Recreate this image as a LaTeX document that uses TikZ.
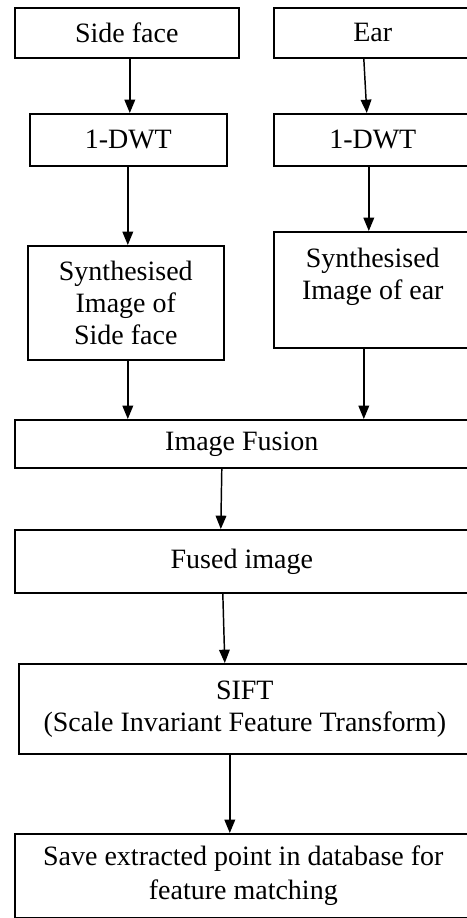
\documentclass[tikz,border=0pt]{standalone}
\usepackage{fontspec}
\setmainfont{Liberation Serif}
\usetikzlibrary{arrows.meta}

\begin{document}
\begin{tikzpicture}[x=0.75pt, y=-0.75pt]
  % one pixel of the layout
  \def\pu{0.75pt}
  %
  \tikzset{
    fbox/.style={draw, line width=1.2pt, inner sep=0pt, align=center, anchor=north west,
                 font=\fontsize{21}{24}\selectfont},
    arr/.style={line width=1.1pt, -{Triangle[length=10pt, width=8pt]}},
  }
  %
  \clip (0,0) rectangle (467,918);
  %
  %%% TWO COLUMNS %%%
  \node[fbox, minimum width=224*\pu, minimum height=50*\pu] (side) at (14,7) {Side face};
  \node[fbox, minimum width=198*\pu, minimum height=50*\pu] (ear) at (273,7) {Ear};
  %
  \node[fbox, minimum width=197*\pu, minimum height=52*\pu] (dwtL) at (29,113) {1-DWT};
  \node[fbox, minimum width=198*\pu, minimum height=52*\pu] (dwtR) at (273,113) {1-DWT};
  %
  \node[fbox, minimum width=196*\pu, minimum height=114*\pu] (synL) at (27,245)
    {Synthesised\\Image of\\Side face};
  \node[fbox, minimum width=198*\pu, minimum height=116*\pu] (synR) at (273,231)
    {Synthesised\\Image of ear\\ };
  %
  %%% COMMON CHAIN %%%
  \node[fbox, minimum width=454*\pu, minimum height=48*\pu] (fusion) at (14,419) {Image Fusion};
  \node[fbox, minimum width=454*\pu, minimum height=63*\pu] (fused) at (14,529) {Fused image};
  \node[fbox, minimum width=452*\pu, minimum height=90*\pu] (sift) at (18,663)
    {SIFT\\(Scale Invariant Feature Transform)};
  \node[fbox, minimum width=457*\pu, minimum height=84*\pu] (save) at (14,833)
    {Save extracted point in database for\\[2pt]feature matching};
  %
  % Arrows
  \draw[arr] ([xshift=3*\pu]side.south) -- ([xshift=1.5*\pu]dwtL.north);
  \draw[arr] ([xshift=-9*\pu]ear.south) -- ([xshift=-6*\pu]dwtR.north);
  \draw[arr] ([xshift=-0.5*\pu]dwtL.south) -- ([xshift=2*\pu]synL.north);
  \draw[arr] ([xshift=-4*\pu]dwtR.south) -- ([xshift=-4*\pu]synR.north);
  \draw[arr] ([xshift=2*\pu]synL.south) -- ([xshift=2*\pu]synL.south |- fusion.north);
  \draw[arr] ([xshift=-9*\pu]synR.south) -- ([xshift=-9*\pu]synR.south |- fusion.north);
  \draw[arr] ([xshift=-20*\pu]fusion.south) -- ([xshift=-21*\pu]fused.north);
  \draw[arr] ([xshift=-19*\pu]fused.south) -- ([xshift=-20*\pu]sift.north);
  \draw[arr] ([xshift=-15*\pu]sift.south) -- ([xshift=-13.5*\pu]save.north);
\end{tikzpicture}
\end{document}
